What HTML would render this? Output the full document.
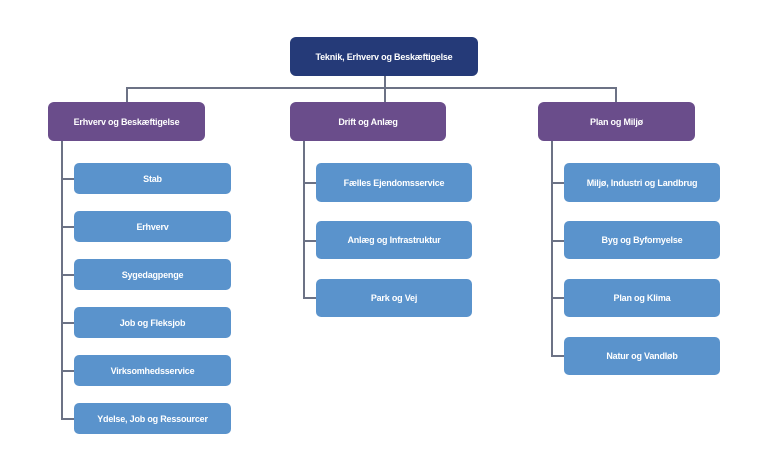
<!DOCTYPE html>
<html><head><meta charset="utf-8"><style>
body{margin:0;width:768px;height:475px;background:#fff;position:relative;overflow:hidden;font-family:"Liberation Sans",sans-serif}
.b{position:absolute;display:flex;align-items:center;justify-content:center;color:#fff;font-weight:bold;font-size:9px;border-radius:6px;letter-spacing:-0.2px}
.t{background:#253a78}
.p{background:#6a4d8b}
.c{background:#5a93cc;border-radius:5px}
.l{position:absolute;background:#6c7285}
</style></head><body>
<div class="l" style="left:384px;top:76px;width:2px;height:26px"></div>
<div class="l" style="left:126px;top:87px;width:491px;height:2px"></div>
<div class="l" style="left:126px;top:87px;width:2px;height:15px"></div>
<div class="l" style="left:615px;top:87px;width:2px;height:15px"></div>
<div class="l" style="left:61px;top:141px;width:2px;height:278px"></div>
<div class="l" style="left:303px;top:141px;width:2px;height:157px"></div>
<div class="l" style="left:551px;top:141px;width:2px;height:215px"></div>
<div class="l" style="left:61px;top:178px;width:13px;height:2px"></div>
<div class="l" style="left:61px;top:226px;width:13px;height:2px"></div>
<div class="l" style="left:61px;top:274px;width:13px;height:2px"></div>
<div class="l" style="left:61px;top:322px;width:13px;height:2px"></div>
<div class="l" style="left:61px;top:370px;width:13px;height:2px"></div>
<div class="l" style="left:61px;top:418px;width:13px;height:2px"></div>
<div class="l" style="left:303px;top:182px;width:13px;height:2px"></div>
<div class="l" style="left:303px;top:240px;width:13px;height:2px"></div>
<div class="l" style="left:303px;top:297px;width:13px;height:2px"></div>
<div class="l" style="left:551px;top:182px;width:13px;height:2px"></div>
<div class="l" style="left:551px;top:240px;width:13px;height:2px"></div>
<div class="l" style="left:551px;top:297px;width:13px;height:2px"></div>
<div class="l" style="left:551px;top:355px;width:13px;height:2px"></div>

<div class="b t" style="left:290px;top:37px;width:188px;height:39px">Teknik, Erhverv og Beskæftigelse</div>
<div class="b p" style="left:48px;top:102px;width:157px;height:39px">Erhverv og Beskæftigelse</div>
<div class="b p" style="left:290px;top:102px;width:156px;height:39px">Drift og Anlæg</div>
<div class="b p" style="left:538px;top:102px;width:157px;height:39px">Plan og Miljø</div>

<div class="b c" style="left:74px;top:163px;width:157px;height:31px">Stab</div>
<div class="b c" style="left:74px;top:211px;width:157px;height:31px">Erhverv</div>
<div class="b c" style="left:74px;top:259px;width:157px;height:31px">Sygedagpenge</div>
<div class="b c" style="left:74px;top:307px;width:157px;height:31px">Job og Fleksjob</div>
<div class="b c" style="left:74px;top:355px;width:157px;height:31px">Virksomhedsservice</div>
<div class="b c" style="left:74px;top:403px;width:157px;height:31px">Ydelse, Job og Ressourcer</div>

<div class="b c" style="left:316px;top:163px;width:156px;height:39px">Fælles Ejendomsservice</div>
<div class="b c" style="left:316px;top:221px;width:156px;height:38px">Anlæg og Infrastruktur</div>
<div class="b c" style="left:316px;top:279px;width:156px;height:38px">Park og Vej</div>

<div class="b c" style="left:564px;top:163px;width:156px;height:39px">Miljø, Industri og Landbrug</div>
<div class="b c" style="left:564px;top:221px;width:156px;height:38px">Byg og Byfornyelse</div>
<div class="b c" style="left:564px;top:279px;width:156px;height:38px">Plan og Klima</div>
<div class="b c" style="left:564px;top:337px;width:156px;height:38px">Natur og Vandløb</div>
</body></html>
